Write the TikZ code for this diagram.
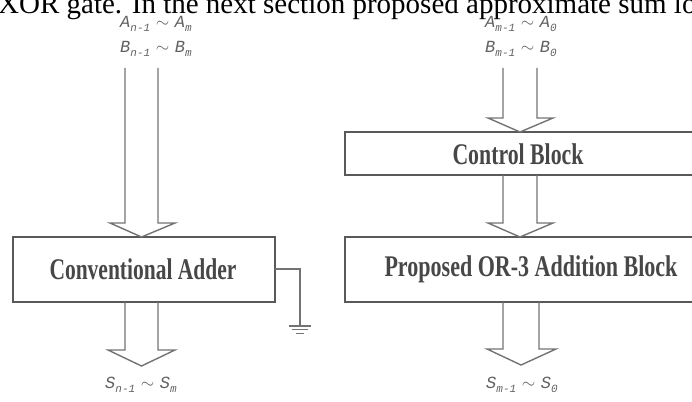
\documentclass[tikz,border=0pt]{standalone}
\usepackage{fontspec}
\usepackage{graphicx}
\setmainfont{Liberation Serif}
\newfontfamily\labfont{Liberation Mono}
\newcommand\boxtxt[2]{\resizebox{#1}{\height}{\bfseries\fontsize{30}{30}\selectfont #2}}
\newcommand\sublab[1]{\raisebox{-3.5pt}{\fontsize{11}{11}\selectfont #1}}
\newcommand\lab[4]{{\labfont\itshape\fontsize{17}{17}\selectfont #1\sublab{#2}\,\,{\normalfont\fontsize{17}{17}\selectfont$\sim$}\,\,#3\sublab{#4}}}
\begin{document}
\begin{tikzpicture}[x=1pt,y=-1pt,
  blk/.style={draw=black!65,line width=1.8pt},
  harrow/.style={draw=black!55,line width=1.4pt,line join=miter},
  gnd/.style={draw=black!55,line width=1.4pt},
  lbl/.style={text=black!62,inner sep=0pt},
  btxt/.style={text=black!72,inner sep=0pt}]
\useasboundingbox (0,0) rectangle (692,401);
\clip (0,0) rectangle (692,401);
% clipped running text at top
\node[anchor=base west,inner sep=0pt,font=\fontsize{29}{29}\selectfont] (head) at (-2,14) {XOR gate. In the next section proposed approximate sum lo};
% input labels
\node[lbl] (la) at (156,24) {\lab{A}{n-1}{A}{m}};
\node[lbl] (lb) at (156,49) {\lab{B}{n-1}{B}{m}};
\node[lbl] (ra) at (521,24) {\lab{A}{m-1}{A}{0}};
\node[lbl] (rb) at (521,49) {\lab{B}{m-1}{B}{0}};
% blocks
\draw[blk] (13,237) rectangle (275,302);
\node[btxt] (ca) at (143,269) {\boxtxt{187pt}{Conventional Adder}};
\draw[blk] (345,132) rectangle (700,175);
\node[btxt] (cb) at (518,154) {\boxtxt{131pt}{Control Block}};
\draw[blk] (345,237) rectangle (700,302);
\node[btxt] (pb) at (531,269) {\boxtxt{293pt}{Proposed OR-3 Addition Block}};
% hollow arrows
\draw[harrow] (125,68) -- (125,223) -- (110,223) -- (141.5,237) -- (175,223) -- (158,223) -- (158,68);
\draw[harrow] (503,68) -- (503,118) -- (488,118) -- (520,132) -- (553,118) -- (537,118) -- (537,68);
\draw[harrow] (503,175) -- (503,223) -- (488,223) -- (520,237) -- (553,223) -- (537,223) -- (537,175);
\draw[harrow] (125,302) -- (125,350) -- (108,350) -- (141.5,366) -- (175,350) -- (158,350) -- (158,302);
\draw[harrow] (503,302) -- (503,349) -- (487,349) -- (521,365) -- (556,349) -- (539,349) -- (539,302);
% ground
\coordinate (g0) at (275,269);
\coordinate (g1) at (300,269);
\coordinate (g2) at (300,326);
\draw[gnd] (g0) -- (g1) -- (g2);
\draw[gnd] (289,326) -- (311,326);
\draw[gnd,line width=1.1pt] (292,329.5) -- (308,329.5);
\draw[gnd,line width=1pt] (296,333) -- (304,333);
% outputs
\node[lbl] (ls) at (141,385) {\lab{S}{n-1}{S}{m}};
\node[lbl] (rs) at (522,385) {\lab{S}{m-1}{S}{0}};
\end{tikzpicture}
\end{document}
